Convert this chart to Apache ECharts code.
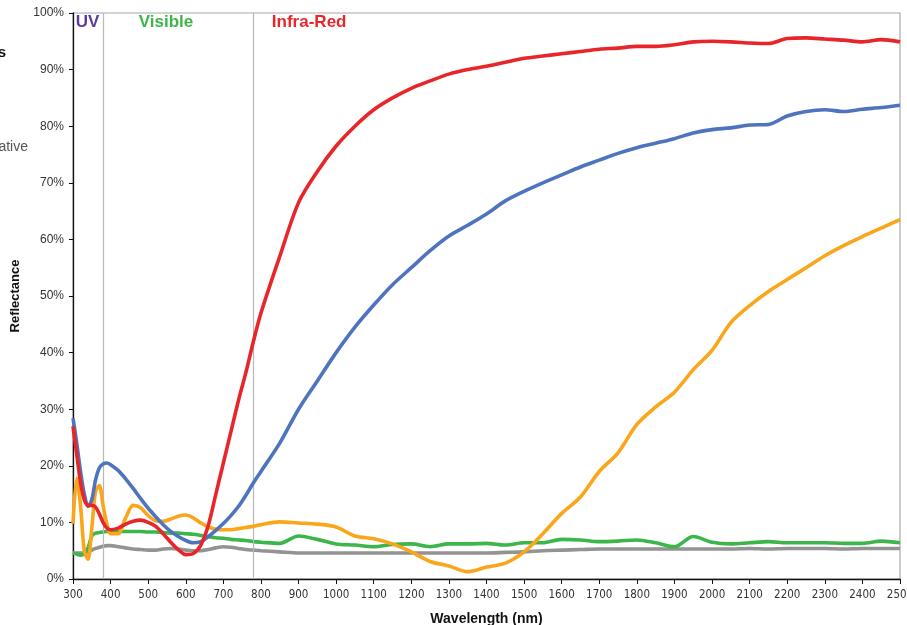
<!DOCTYPE html>
<html><head><meta charset="utf-8">
<script src="https://cdn.jsdelivr.net/npm/echarts@6/dist/echarts.min.js"></script>
<style>html,body{margin:0;padding:0;background:#fff}#c{width:907px;height:625px}</style>
</head><body><div id="c"></div>
<script>
const wavelengths = [300,310,320,330,340,350,360,370,380,390,400,
  420,440,460,480,500,520,540,560,580,600,620,640,660,680,700,720,740,760,780,800,
  850,900,950,1000,1050,1100,1150,1200,1250,1300,1350,1400,1450,1500,1550,1600,1650,1700,1750,1800,1850,1900,1950,2000,2050,2100,2150,2200,2250,2300,2350,2400,2450,2500];

const redValues = [27,22,17,14,13,13,12.7,11.5,10,9,8.7,
  9,9.7,10.2,10.4,10,9.3,8,6.5,5.2,4.3,4.5,6,9.5,15,20.5,26,31.5,36.5,42,47,
  57,66.5,72,76.5,80,82.9,85,86.7,88,89.2,90,90.6,91.3,92,92.4,92.8,93.2,93.6,93.8,94.1,94.1,94.4,94.9,95,94.9,94.7,94.6,95.5,95.6,95.4,95.2,94.9,95.3,94.9];

const blueValues = [28.4,24,19,15,12.8,14,17.5,19.6,20.3,20.5,20.2,
  19.2,17.7,16,14.2,12.5,11,9.6,8.4,7.5,6.8,6.4,6.6,7.5,8.6,9.8,11.2,12.8,14.8,17,19,
  24,30,35,40,44.5,48.4,52,55,58,60.6,62.5,64.5,66.8,68.5,70,71.4,72.8,74,75.2,76.2,77,77.8,78.8,79.4,79.7,80.2,80.3,81.8,82.6,82.9,82.6,83,83.3,83.7];

const orangeValues = [9.8,17.8,13,5,3.5,9,15.5,16.5,13,9.8,8,
  8,10.8,13,12.6,11.2,10.3,10.2,10.6,11.1,11.3,10.8,9.9,9.2,8.8,8.7,8.7,8.9,9.1,9.3,9.6,
  10.1,9.9,9.7,9.2,7.6,7.1,6.2,4.8,3.1,2.3,1.3,2.1,2.8,4.8,8,11.6,14.5,19,22.3,27.3,30.4,33,37,40.4,45.3,48.3,50.8,52.9,55,57.1,58.9,60.5,62,63.5];

const greenValues = [4.6,4.4,4.2,4.5,5.5,7.6,8.1,8.2,8.3,8.4,8.4,
  8.4,8.4,8.4,8.4,8.3,8.3,8.2,8.1,8.1,8,7.9,7.7,7.5,7.3,7.2,7,6.9,6.8,6.6,6.5,
  6.3,7.6,7,6.2,6,5.7,6.1,6.2,5.7,6.2,6.2,6.3,6,6.4,6.4,7,6.9,6.6,6.7,6.9,6.4,5.7,7.5,6.5,6.2,6.4,6.6,6.4,6.4,6.4,6.3,6.3,6.7,6.4];

const grayValues = [4.6,4.6,4.6,4.6,4.7,5.1,5.4,5.6,5.8,5.9,5.9,
  5.7,5.5,5.3,5.2,5.1,5.1,5.3,5.4,5.3,5.1,5,5,5.2,5.5,5.7,5.6,5.4,5.2,5.1,5,
  4.8,4.6,4.6,4.6,4.6,4.6,4.6,4.6,4.6,4.6,4.6,4.6,4.7,4.8,5,5.1,5.2,5.3,5.3,5.3,5.3,5.3,5.3,5.3,5.3,5.4,5.3,5.4,5.4,5.4,5.3,5.4,5.4,5.4];

const regionBounds = [380, 780];
const regionLabels = [
  {text:'UV', nm:307, color:'#5b3c9b'},
  {text:'Visible', nm:475, color:'#3cb54a'},
  {text:'Infra-Red', nm:829, color:'#e8262a'}
];

const pairs = v => wavelengths.map((w,i)=>[w,v[i]]);
const lineSeries = (name, vals, color, z) => ({
  name, type:'line', data: pairs(vals), smooth:0.3, symbol:'none', z,
  lineStyle:{color, width:3.6}, itemStyle:{color}
});

const chart = echarts.init(document.getElementById('c'));
const series = [
  lineSeries('Gray', grayValues, '#939393', 3),
  lineSeries('Green', greenValues, '#3cb54a', 4),
  lineSeries('Orange', orangeValues, '#faa61a', 5),
  lineSeries('Blue', blueValues, '#4f74bf', 6),
  lineSeries('Red', redValues, '#e8262a', 7)
];
series[0].markLine = {
  silent:true, symbol:'none', label:{show:false},
  lineStyle:{color:'#b8b8b8', width:1.2, type:'solid'},
  data: regionBounds.map(x=>({xAxis:x}))
};
chart.setOption({
  animation:false,
  grid:{left:73, right:7, top:13, bottom:46, show:true, borderColor:'#a8a8a8', borderWidth:1.2, outerBoundsMode:'none', containLabel:false},
  xAxis:{
    type:'value', min:300, max:2500, interval:100,
    name:'Wavelength (nm)', nameLocation:'middle', nameGap:33,
    nameTextStyle:{fontFamily:'Liberation Sans', fontWeight:'bold', fontSize:14, color:'#111'},
    axisLine:{lineStyle:{color:'#111', width:1.3}},
    axisTick:{show:true, length:5, lineStyle:{color:'#111'}},
    axisLabel:{formatter: v => String(v), fontFamily:'Liberation Sans Narrow, DejaVu Sans Condensed, Liberation Sans', fontSize:11.5, color:'#333', margin:10},
    splitLine:{show:false}
  },
  yAxis:{
    type:'value', min:0, max:100, interval:10,
    name:'Reflectance', nameLocation:'middle', nameGap:48, nameRotate:90,
    nameTextStyle:{fontFamily:'Liberation Sans', fontWeight:'bold', fontSize:13, color:'#111'},
    axisLine:{show:true, lineStyle:{color:'#111', width:1.3}},
    axisTick:{show:true, length:4, lineStyle:{color:'#111'}},
    axisLabel:{formatter:'{value}%', fontFamily:'Liberation Sans', fontSize:12, color:'#333', margin:9},
    splitLine:{show:false}
  },
  series
});

const graphics = regionLabels.map(l=>{
  const p = chart.convertToPixel({gridIndex:0}, [l.nm, 98.1]);
  return {type:'text', left:p[0], top:p[1]-10, style:{text:l.text, fill:l.color, font:'bold 17px "Liberation Sans"'}};
});
graphics.push({type:'text', right:901, top:45, style:{text:'s', fill:'#111', font:'bold 15px "Liberation Sans"'}});
graphics.push({type:'text', right:879, top:140, style:{text:'ative', fill:'#555', font:'14px "Liberation Sans"'}});
chart.setOption({graphic:graphics});
</script>
</body></html>
